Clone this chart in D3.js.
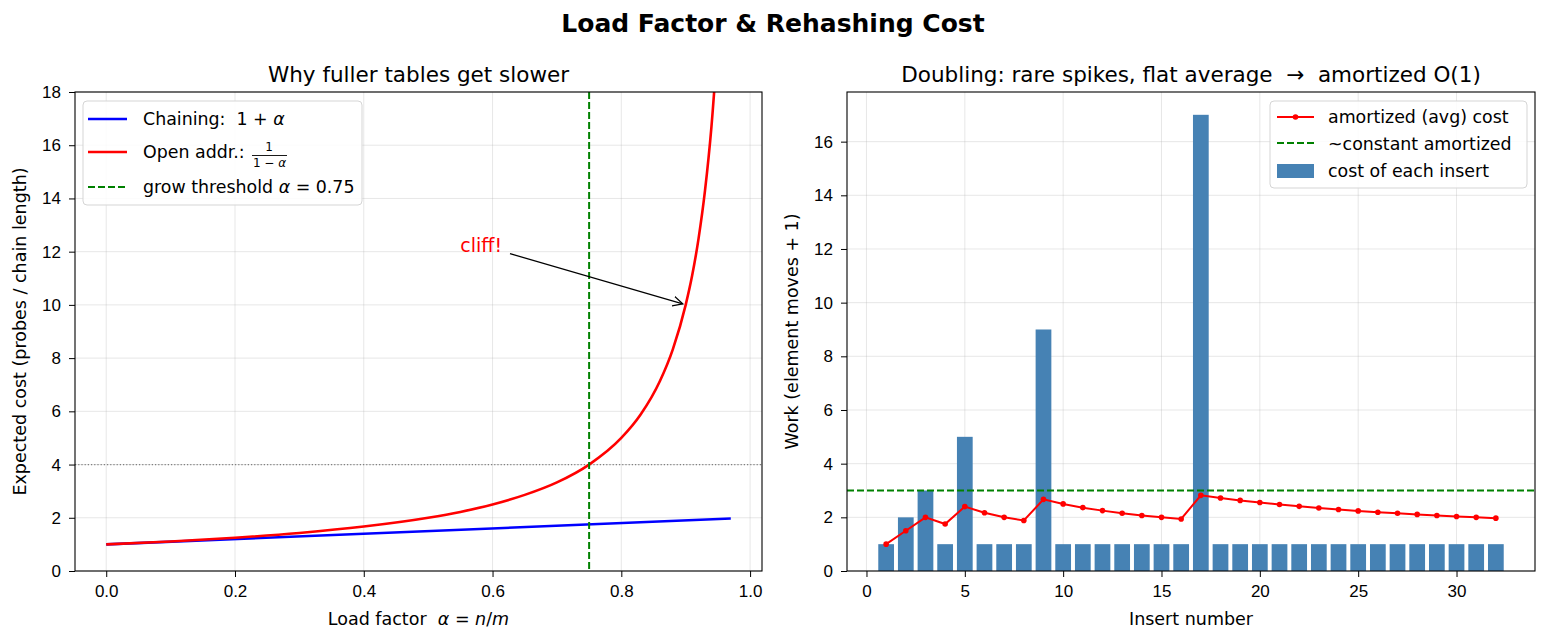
<!DOCTYPE html>
<html>
<head>
<meta charset="utf-8">
<script src="https://cdn.jsdelivr.net/npm/d3@7"></script>
<style>
  body { margin: 0; background: #fff; }
  svg { font-family: "DejaVu Sans", sans-serif; }
  .tick text { font-size: 17px; fill: #000; }
  .tick line { stroke: #000; }
  .domain { display: none; }
</style>
</head>
<body>
<svg id="fig" width="1546" height="641"></svg>
<script>
// left panel: costs
const chainAlpha = [0, 0.97];
const chainCost = [1, 1.97];
const openAlpha = [0, 0.1, 0.2, 0.3, 0.4, 0.5, 0.55, 0.6, 0.65, 0.7, 0.75, 0.8, 0.83, 0.86, 0.88, 0.9, 0.91, 0.92, 0.93, 0.94, 0.95];
const openCost = [1, 1.11, 1.25, 1.43, 1.67, 2, 2.22, 2.5, 2.86, 3.33, 4, 5, 5.88, 7.14, 8.33, 10, 11.1, 12.5, 14.3, 16.7, 20];
const threshold = 0.75;
const refLine = 4;
const leftXTicks = [0, 0.2, 0.4, 0.6, 0.8, 1.0];
const leftYTicks = [0, 2, 4, 6, 8, 10, 12, 14, 16, 18];

// right panel: doubling table inserts
const insertNum = d3.range(1, 33);
const insertCost = [1, 2, 3, 1, 5, 1, 1, 1, 9, 1, 1, 1, 1, 1, 1, 1, 17, 1, 1, 1, 1, 1, 1, 1, 1, 1, 1, 1, 1, 1, 1, 1];
const avgCost = [1, 1.5, 2, 1.75, 2.4, 2.17, 2, 1.88, 2.67, 2.5, 2.36, 2.25, 2.15, 2.07, 2, 1.94, 2.82, 2.72, 2.63, 2.55, 2.48, 2.41, 2.35, 2.29, 2.24, 2.19, 2.15, 2.11, 2.07, 2.03, 2, 1.97];
const constLevel = 3;
const rightXTicks = [0, 5, 10, 15, 20, 25, 30];
const rightYTicks = [0, 2, 4, 6, 8, 10, 12, 14, 16];

const svg = d3.select('#fig');
const axTop = 92, axBottom = 571;
const legFont = '17.4px', labFont = '17.5px', titleFont = '21.5px';

svg.append('text')
    .attr('x', 773).attr('y', 32)
    .attr('text-anchor', 'middle')
    .style('font-size', '25px').style('font-weight', 'bold')
    .text('Load Factor & Rehashing Cost');

function makeAxes(x0, x1, xdom, ydom, xticks, yticks, fmt) {
    const g = svg.append('g');
    const x = d3.scaleLinear().domain(xdom).range([x0, x1]);
    const y = d3.scaleLinear().domain(ydom).range([axBottom, axTop]);
    // grid
    g.selectAll('.gx').data(xticks).join('line')
        .attr('x1', d => x(d)).attr('x2', d => x(d))
        .attr('y1', axTop).attr('y2', axBottom)
        .attr('stroke', '#b0b0b0').attr('stroke-opacity', 0.3).attr('stroke-width', 1);
    g.selectAll('.gy').data(yticks).join('line')
        .attr('x1', x0).attr('x2', x1)
        .attr('y1', d => y(d)).attr('y2', d => y(d))
        .attr('stroke', '#b0b0b0').attr('stroke-opacity', 0.3).attr('stroke-width', 1);
    const plot = g.append('g');
    const clipId = 'clip' + x0;
    svg.append('clipPath').attr('id', clipId)
        .append('rect').attr('x', x0).attr('y', axTop).attr('width', x1 - x0).attr('height', axBottom - axTop);
    plot.attr('clip-path', `url(#${clipId})`);
    g.append('g').attr('transform', `translate(0,${axBottom})`)
        .call(d3.axisBottom(x).tickValues(xticks).tickFormat(fmt).tickSize(6).tickPadding(8).tickSizeOuter(0));
    g.append('g').attr('transform', `translate(${x0},0)`)
        .call(d3.axisLeft(y).tickValues(yticks).tickFormat(d3.format('d')).tickSize(6).tickPadding(8).tickSizeOuter(0));
    return { g, plot, x, y, x0, x1 };
}

// ---------- left ----------
const L = makeAxes(75, 762, [-0.0485, 1.0185], [0, 18], leftXTicks, leftYTicks, d3.format('.1f'));
L.plot.append('line')
    .attr('x1', L.x0).attr('x2', L.x1).attr('y1', L.y(refLine)).attr('y2', L.y(refLine))
    .attr('stroke', 'gray').attr('stroke-width', 1.2).attr('stroke-dasharray', '1.2,2');
const line = d3.line().x(d => L.x(d[0])).y(d => L.y(d[1]));
L.plot.append('path')
    .datum(d3.zip(chainAlpha, chainCost))
    .attr('d', line).attr('fill', 'none').attr('stroke', '#0000ff').attr('stroke-width', 2.6);
L.plot.append('path')
    .datum(d3.zip(openAlpha, openCost))
    .attr('d', line.curve(d3.curveMonotoneX)).attr('fill', 'none').attr('stroke', '#ff0000').attr('stroke-width', 2.6);
L.plot.append('line')
    .attr('x1', L.x(threshold)).attr('x2', L.x(threshold)).attr('y1', axTop).attr('y2', axBottom)
    .attr('stroke', 'green').attr('stroke-width', 2).attr('stroke-dasharray', '7,3');

// annotation
svg.append('defs').append('marker')
    .attr('id', 'arr').attr('viewBox', '0 0 10 10').attr('refX', 9).attr('refY', 5)
    .attr('markerWidth', 11).attr('markerHeight', 11).attr('markerUnits', 'userSpaceOnUse')
    .attr('orient', 'auto')
    .append('path').attr('d', 'M0,0.5 L9,5 L0,9.5').attr('fill', 'none').attr('stroke', '#000').attr('stroke-width', 1.2);
svg.append('text')
    .attr('x', L.x(0.55)).attr('y', L.y(12))
    .style('font-size', '19px').attr('fill', 'red')
    .text('cliff!');
svg.append('line')
    .attr('x1', 510).attr('y1', L.y(12) + 2)
    .attr('x2', L.x(0.9) - 3).attr('y2', L.y(10) - 1)
    .attr('stroke', '#000').attr('stroke-width', 1.3).attr('marker-end', 'url(#arr)');

L.g.append('rect').attr('x', 75).attr('y', axTop).attr('width', 687).attr('height', axBottom - axTop)
    .attr('fill', 'none').attr('stroke', '#000').attr('stroke-width', 1.1);

svg.append('text').attr('x', 418.5).attr('y', 82).attr('text-anchor', 'middle')
    .style('font-size', titleFont).text('Why fuller tables get slower');
svg.append('text').attr('x', 418.5).attr('y', 625).attr('text-anchor', 'middle')
    .style('font-size', labFont).style('white-space', 'pre')
    .html('Load factor  <tspan font-style="italic">α</tspan> = <tspan font-style="italic">n</tspan>/<tspan font-style="italic">m</tspan>');
svg.append('text').attr('transform', `translate(26,${(axTop + axBottom) / 2}) rotate(-90)`)
    .attr('text-anchor', 'middle').style('font-size', labFont)
    .text('Expected cost (probes / chain length)');

// left legend
const lg = svg.append('g');
lg.append('rect').attr('x', 83).attr('y', 101).attr('width', 279).attr('height', 104)
    .attr('rx', 4).attr('fill', 'white').attr('fill-opacity', 0.85).attr('stroke', '#d5d5d5');
const legRowsL = [
    { y: 119, color: '#0000ff', dash: null },
    { y: 152, color: '#ff0000', dash: null },
    { y: 187, color: 'green', dash: '7,3' }
];
legRowsL.forEach(r => {
    lg.append('line').attr('x1', 88).attr('x2', 127).attr('y1', r.y).attr('y2', r.y)
        .attr('stroke', r.color).attr('stroke-width', r.dash ? 2 : 2.6)
        .attr('stroke-dasharray', r.dash);
});
lg.append('text').attr('x', 143).attr('y', 125).style('font-size', legFont).style('white-space', 'pre')
    .html('Chaining:  1 + <tspan font-style="italic">α</tspan>');
lg.append('text').attr('x', 143).attr('y', 158).style('font-size', legFont).text('Open addr.:');
lg.append('text').attr('x', 269).attr('y', 151).attr('text-anchor', 'middle').style('font-size', '12px').text('1');
lg.append('line').attr('x1', 252).attr('x2', 287).attr('y1', 155.5).attr('y2', 155.5).attr('stroke', '#000').attr('stroke-width', 0.9);
lg.append('text').attr('x', 269.5).attr('y', 167).attr('text-anchor', 'middle').style('font-size', '12px')
    .html('1 − <tspan font-style="italic">α</tspan>');
lg.append('text').attr('x', 143).attr('y', 193).style('font-size', legFont)
    .html('grow threshold <tspan font-style="italic">α</tspan> = 0.75');

// ---------- right ----------
const R = makeAxes(847, 1535, [-0.99, 33.99], [0, 17.85], rightXTicks, rightYTicks, d3.format('d'));
R.plot.selectAll('rect.bar').data(d3.zip(insertNum, insertCost)).join('rect')
    .attr('class', 'bar')
    .attr('x', d => R.x(d[0] - 0.4)).attr('width', R.x(0.8) - R.x(0))
    .attr('y', d => R.y(d[1])).attr('height', d => R.y(0) - R.y(d[1]))
    .attr('fill', 'steelblue');
R.plot.append('line')
    .attr('x1', R.x0).attr('x2', R.x1).attr('y1', R.y(constLevel)).attr('y2', R.y(constLevel))
    .attr('stroke', 'green').attr('stroke-width', 2).attr('stroke-dasharray', '7,3');
const avgLine = d3.line().x(d => R.x(d[0])).y(d => R.y(d[1]));
R.plot.append('path').datum(d3.zip(insertNum, avgCost))
    .attr('d', avgLine).attr('fill', 'none').attr('stroke', '#ff0000').attr('stroke-width', 2);
R.plot.selectAll('circle').data(d3.zip(insertNum, avgCost)).join('circle')
    .attr('cx', d => R.x(d[0])).attr('cy', d => R.y(d[1])).attr('r', 2.8).attr('fill', '#ff0000');

R.g.append('rect').attr('x', 847).attr('y', axTop).attr('width', 688).attr('height', axBottom - axTop)
    .attr('fill', 'none').attr('stroke', '#000').attr('stroke-width', 1.1);

svg.append('text').attr('x', 1191).attr('y', 82).attr('text-anchor', 'middle')
    .style('font-size', titleFont).style('white-space', 'pre')
    .text('Doubling: rare spikes, flat average  →  amortized O(1)');
svg.append('text').attr('x', 1191).attr('y', 625).attr('text-anchor', 'middle')
    .style('font-size', labFont).text('Insert number');
svg.append('text').attr('transform', `translate(798,${(axTop + axBottom) / 2}) rotate(-90)`)
    .attr('text-anchor', 'middle').style('font-size', labFont)
    .text('Work (element moves + 1)');

// right legend
const rg = svg.append('g');
rg.append('rect').attr('x', 1270).attr('y', 101).attr('width', 257).attr('height', 87)
    .attr('rx', 4).attr('fill', 'white').attr('fill-opacity', 0.85).attr('stroke', '#d5d5d5');
rg.append('line').attr('x1', 1277).attr('x2', 1314).attr('y1', 117).attr('y2', 117)
    .attr('stroke', '#ff0000').attr('stroke-width', 2);
rg.append('circle').attr('cx', 1295.5).attr('cy', 117).attr('r', 2.8).attr('fill', '#ff0000');
rg.append('line').attr('x1', 1277).attr('x2', 1314).attr('y1', 143).attr('y2', 143)
    .attr('stroke', 'green').attr('stroke-width', 2).attr('stroke-dasharray', '7,3');
rg.append('rect').attr('x', 1277).attr('y', 164).attr('width', 37).attr('height', 14).attr('fill', 'steelblue');
const rtext = ['amortized (avg) cost', '~constant amortized', 'cost of each insert'];
rtext.forEach((t, i) => {
    rg.append('text').attr('x', 1328).attr('y', 123 + i * 27).style('font-size', legFont).text(t);
});
</script>
</body>
</html>
